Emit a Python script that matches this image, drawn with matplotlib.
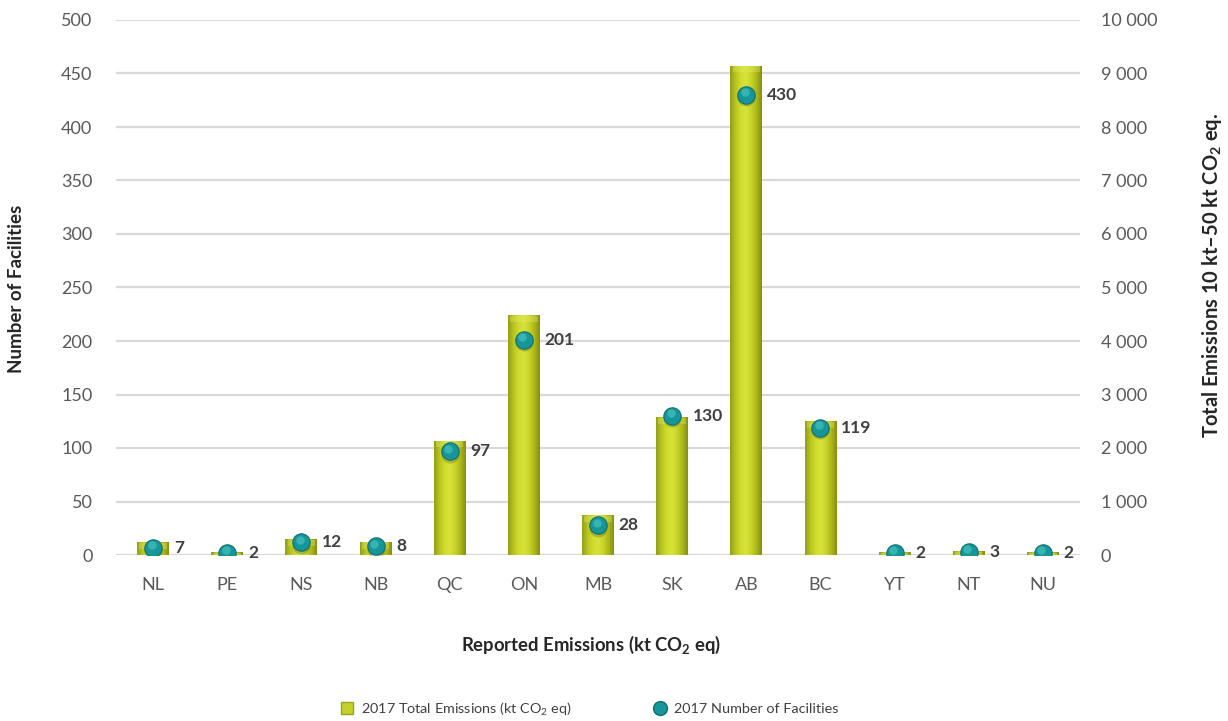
import numpy as np
import matplotlib
matplotlib.use("Agg")
import matplotlib.pyplot as plt
from matplotlib.colors import LinearSegmentedColormap
from matplotlib.lines import Line2D
from matplotlib import transforms

# Provinces and territories, with 2017 facility counts and total emissions
provinces = ["NL", "PE", "NS", "NB", "QC", "ON", "MB", "SK", "AB", "BC", "YT", "NT", "NU"]
facilities = [7, 2, 12, 8, 97, 201, 28, 130, 430, 119, 2, 3, 2]
emissions_kt = [230, 40, 285, 235, 2130, 4470, 730, 2570, 9140, 2490, 40, 60, 45]

left_ticks = list(range(0, 501, 50))
right_ticks = list(range(0, 10001, 1000))

plt.rcParams["font.family"] = ["Lato", "DejaVu Sans"]
plt.rcParams["mathtext.fontset"] = "custom"
plt.rcParams["mathtext.rm"] = "Lato"
plt.rcParams["mathtext.bf"] = "Lato:bold"
plt.rcParams["mathtext.default"] = "regular"

TICK_COLOR = "#595959"
LABEL_COLOR = "#404040"
GRID_COLOR = "#d9d9d9"
BAR_MID = "#cfdb2c"
TEAL = "#17969a"

fig = plt.figure(figsize=(12.28, 7.21), dpi=100)
ax = fig.add_axes([116 / 1228, 1 - 555 / 721, (1080 - 116) / 1228, (555 - 20) / 721])
ax2 = ax.twinx()

x = np.arange(len(provinces))
width = 0.43

# Emissions bars (right scale) with a horizontal shading gradient
bar_cmap = LinearSegmentedColormap.from_list(
    "bar", ["#939f16", "#b8c422", BAR_MID, "#d8e33c", "#c8d428", "#acb81b", "#85900f"])
grad = np.linspace(0, 1, 64).reshape(1, -1)
for xi, h in zip(x, emissions_kt):
    ax.imshow(grad, cmap=bar_cmap, aspect="auto", interpolation="bicubic",
              extent=(xi - width / 2, xi + width / 2, 0, h), zorder=3)
    # light bevel near the top of each bar
    cap = min(h, 120)
    ax.fill_between([xi - width / 2 + 0.03, xi + width / 2 - 0.03], h - cap, h,
                    color="#e4ec6a", alpha=0.35, lw=0, zorder=4)

ax.set_xlim(-0.5, len(provinces) - 0.5)
ax.set_ylim(0, 10000)
ax.set_yticks(right_ticks)
ax.set_yticklabels([f"{v:,}".replace(",", " ") for v in right_ticks])
ax.yaxis.tick_right()
ax.yaxis.set_label_position("right")
ax.grid(axis="y", color=GRID_COLOR, lw=1.6, zorder=0)
ax.set_axisbelow(True)

# Facility markers (left scale)
ax2.set_ylim(0, 500)
ax2.set_yticks(left_ticks)
ax2.yaxis.tick_left()
ax2.yaxis.set_label_position("left")

shadow_tr = transforms.offset_copy(ax2.transData, fig=fig, x=0, y=-2.5, units="dots")
hi_tr = transforms.offset_copy(ax2.transData, fig=fig, x=-1.5, y=2.5, units="dots")
ax2.plot(x, facilities, "o", ms=13, color="#000000", alpha=0.18, mec="none",
         transform=shadow_tr, zorder=5)
ax2.plot(x, facilities, "o", ms=12.5, color=TEAL, mec="#0f6f72", mew=0.8, zorder=6)
ax2.plot(x, facilities, "o", ms=6, color="#40bcb9", mec="none", alpha=0.8,
         transform=hi_tr, zorder=7)

for xi, n in zip(x, facilities):
    ax2.annotate(str(n), (xi, n), xytext=(15, 0), textcoords="offset points",
                 ha="left", va="center", fontsize=12.5, fontweight="bold",
                 color=LABEL_COLOR, zorder=8)

ax.set_xticks(x)
ax.set_xticklabels(provinces)
for a in (ax, ax2):
    for s in a.spines.values():
        s.set_visible(False)
    a.tick_params(length=0, labelsize=13, labelcolor=TICK_COLOR)
ax.tick_params(axis="x", pad=16)
ax.tick_params(axis="y", pad=15)
ax2.tick_params(axis="y", pad=17)

fig.text(17 / 1228, 1 - 289 / 721, "Number of Facilities", rotation=90,
         ha="center", va="center", fontsize=13.5, fontweight="bold", color="#262626")
fig.text(1212 / 1228, 1 - 275 / 721, r"Total Emissions 10 kt–50 kt CO$_\mathbf{2}$ eq.",
         rotation=90, ha="center", va="center", fontsize=14.5, fontweight="bold",
         color="#262626")
fig.text(591 / 1228, 1 - 645 / 721, r"Reported Emissions (kt CO$_\mathbf{2}$ eq)",
         ha="center", va="center", fontsize=13.3, fontweight="bold", color="#262626")

handles = [
    Line2D([], [], ls="none", marker="s", ms=9, color="#c5d12a", mec="#9aa61a"),
    Line2D([], [], ls="none", marker="o", ms=10, color=TEAL, mec="#0f6f72"),
]
fig.legend(handles, [r"2017 Total Emissions (kt CO$_2$ eq)", "2017 Number of Facilities"],
           loc="center", bbox_to_anchor=(589 / 1228, 1 - 709 / 721), ncol=2,
           frameon=False, fontsize=10.4, columnspacing=5.6, handlelength=1.0,
           handletextpad=0.5, labelcolor="#404040")

fig.savefig("out.png", dpi=100)
